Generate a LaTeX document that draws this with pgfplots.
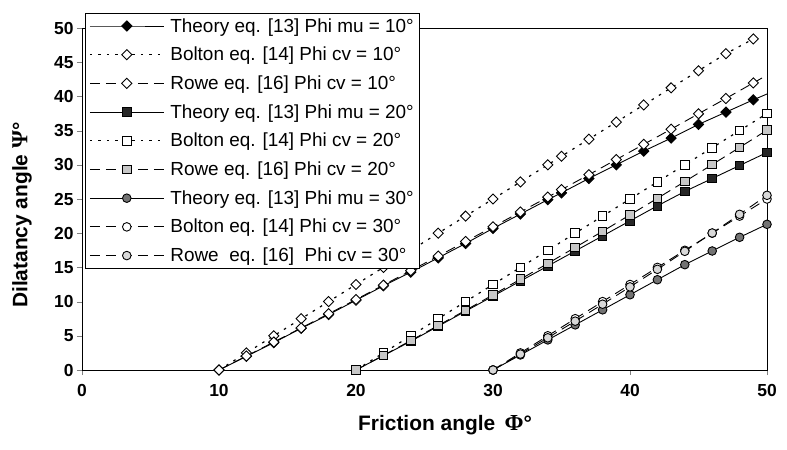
\documentclass[border=0pt]{standalone}
\usepackage{fontspec}
\setmainfont{Liberation Sans}
\newfontfamily\grk{Liberation Serif}
\usepackage{pgfplots}
\pgfplotsset{compat=1.18}
\definecolor{rowegray}{gray}{0.78}
\definecolor{theogray}{gray}{0.45}
\begin{document}
\begin{tikzpicture}
\useasboundingbox (-82bp,-80bp) rectangle (705bp,370bp);
\begin{axis}[
  at={(0,0)}, anchor=south west,
  scale only axis, width=685bp, height=342bp,
  xmin=0, xmax=50, ymin=0, ymax=50,
  xtick={0,10,20,30,40,50}, ytick={0,5,...,50},
  xtick pos=bottom, ytick pos=left, tick align=outside,
  major tick length=5bp,
  axis line style={line width=0.9bp},
  /pgf/number format/assume math mode=true,
  ticklabel style={font=\bfseries\fontsize{17.5}{17.5}\selectfont},
  xticklabel style={yshift=-6bp},
  xlabel={Friction angle \,{\grk\fontsize{23}{23}\selectfont Φ}°},
  ylabel={Dilatancy angle {\grk\fontsize{23}{23}\selectfont Ψ}°},
  label style={font=\bfseries\fontsize{21}{21}\selectfont},
  xlabel style={at={(axis description cs:0.53,-0.161)}, anchor=center},
  ylabel style={at={(axis description cs:-0.0876,0.453)}, anchor=center},
  legend style={at={(rel axis cs:0.004,1.044)}, anchor=north west,
    font=\fontsize{19}{22}\selectfont, draw=black, line width=0.9bp,
    row sep=9.5bp, inner xsep=4bp, inner ysep=3bp, cells={anchor=west},
    /tikz/every odd column/.append style={column sep=4bp}},
  legend image code/.code={\draw[mark repeat=2,mark phase=2] plot coordinates {(4bp,0bp) (41bp,0bp) (78bp,0bp)};},
  every axis plot/.append style={line width=0.9bp},
]
% phi 10
\addplot[black, mark=square*, mark size=3.6bp, mark options={rotate=45, fill=black, solid}]
coordinates {(10,0)(12,2.0)(14,4.0)(16,6.1)(18,8.1)(20,10.2)(22,12.3)(24,14.3)(26,16.4)(28,18.5)(30,20.7)(32,22.8)(34,24.9)(35,25.9)(37,28.0)(39,30.0)(41,32.0)(43,33.9)(45,35.9)(47,37.7)(49,39.5)};
\addlegendentry{Theory eq. [13] Phi mu = 10°}
\addplot[black, dash pattern=on 2.5bp off 6bp, line width=1.2bp, mark=square*, mark size=3.6bp, mark options={rotate=45, fill=white, solid, line width=0.9bp}]
coordinates {(10,0)(12,2.5)(14,5)(16,7.5)(18,10)(20,12.5)(22,15)(24,17.5)(26,20)(28,22.5)(30,25)(32,27.5)(34,30)(35,31.25)(37,33.75)(39,36.25)(41,38.75)(43,41.25)(45,43.75)(47,46.25)(49,48.4)};
\addlegendentry{Bolton eq. [14] Phi cv = 10°}
\addplot[black, dash pattern=on 10bp off 6bp, mark=square*, mark size=3.6bp, mark options={rotate=45, fill=white, solid}]
coordinates {(10,0)(12,2.04)(14,4.09)(16,6.15)(18,8.22)(20,10.31)(22,12.41)(24,14.53)(26,16.65)(28,18.79)(30,20.94)(32,23.10)(34,25.28)(35,26.37)(37,28.56)(39,30.77)(41,32.99)(43,35.21)(45,37.46)(47,39.70)(49,41.97)};
\addlegendentry{Rowe eq. [16] Phi cv = 10°}
% phi 20
\addplot[black, mark=square*, mark size=4.3bp, mark options={fill=black!85, solid}]
coordinates {(20,0)(22,2.1)(24,4.2)(26,6.4)(28,8.6)(30,10.8)(32,13.0)(34,15.2)(36,17.4)(38,19.6)(40,21.8)(42,24.0)(44,26.1)(46,28.0)(48,29.9)(50,31.8)};
\addlegendentry{Theory eq. [13] Phi mu = 20°}
\addplot[black, dash pattern=on 2.5bp off 6bp, line width=1.2bp, mark=square*, mark size=4.3bp, mark options={fill=white, solid, line width=0.9bp}]
coordinates {(20,0)(22,2.5)(24,5)(26,7.5)(28,10)(30,12.5)(32,15)(34,17.5)(36,20)(38,22.5)(40,25)(42,27.5)(44,30)(46,32.5)(48,35)(50,37.5)};
\addlegendentry{Bolton eq. [14] Phi cv = 20°}
\addplot[black, dash pattern=on 10bp off 6bp, mark=square*, mark size=4.3bp, mark options={fill=rowegray, solid}]
coordinates {(20,0)(22,2.14)(24,4.31)(26,6.51)(28,8.73)(30,10.99)(32,13.27)(34,15.58)(36,17.92)(38,20.28)(40,22.68)(42,25.10)(44,27.55)(46,30.03)(48,32.54)(50,35.07)};
\addlegendentry{Rowe eq. [16] Phi cv = 20°}
% phi 30
\addplot[black, mark=*, mark size=4.3bp, mark options={fill=theogray, solid}]
coordinates {(30,0)(32,2.2)(34,4.4)(36,6.6)(38,8.8)(40,11.0)(42,13.2)(44,15.4)(46,17.4)(48,19.4)(50,21.3)};
\addlegendentry{Theory eq. [13] Phi mu = 30°}
\addplot[black, dash pattern=on 10bp off 6bp, mark=*, mark size=4.3bp, mark options={fill=white, solid}]
coordinates {(30,0)(32,2.5)(34,5)(36,7.5)(38,10)(40,12.5)(42,15)(44,17.5)(46,20)(48,22.5)(50,25)};
\addlegendentry{Bolton eq. [14] Phi cv = 30°}
\addplot[black, dash pattern=on 10bp off 6bp, mark=*, mark size=4.3bp, mark options={fill=rowegray!70, solid}]
coordinates {(30,0)(32,2.33)(34,4.71)(36,7.14)(38,9.62)(40,12.15)(42,14.72)(44,17.35)(46,20.03)(48,22.76)(50,25.54)};
\addlegendentry{Rowe~ eq. [16]~ Phi cv = 30°}
% line continuation beyond last point (clipped at the border)
\addplot[black, forget plot] coordinates {(49,39.5)(51,41.2)};
\addplot[black, dash pattern=on 10bp off 6bp, forget plot] coordinates {(49,41.97)(51,44.24)};
\end{axis}
\end{tikzpicture}
\end{document}
